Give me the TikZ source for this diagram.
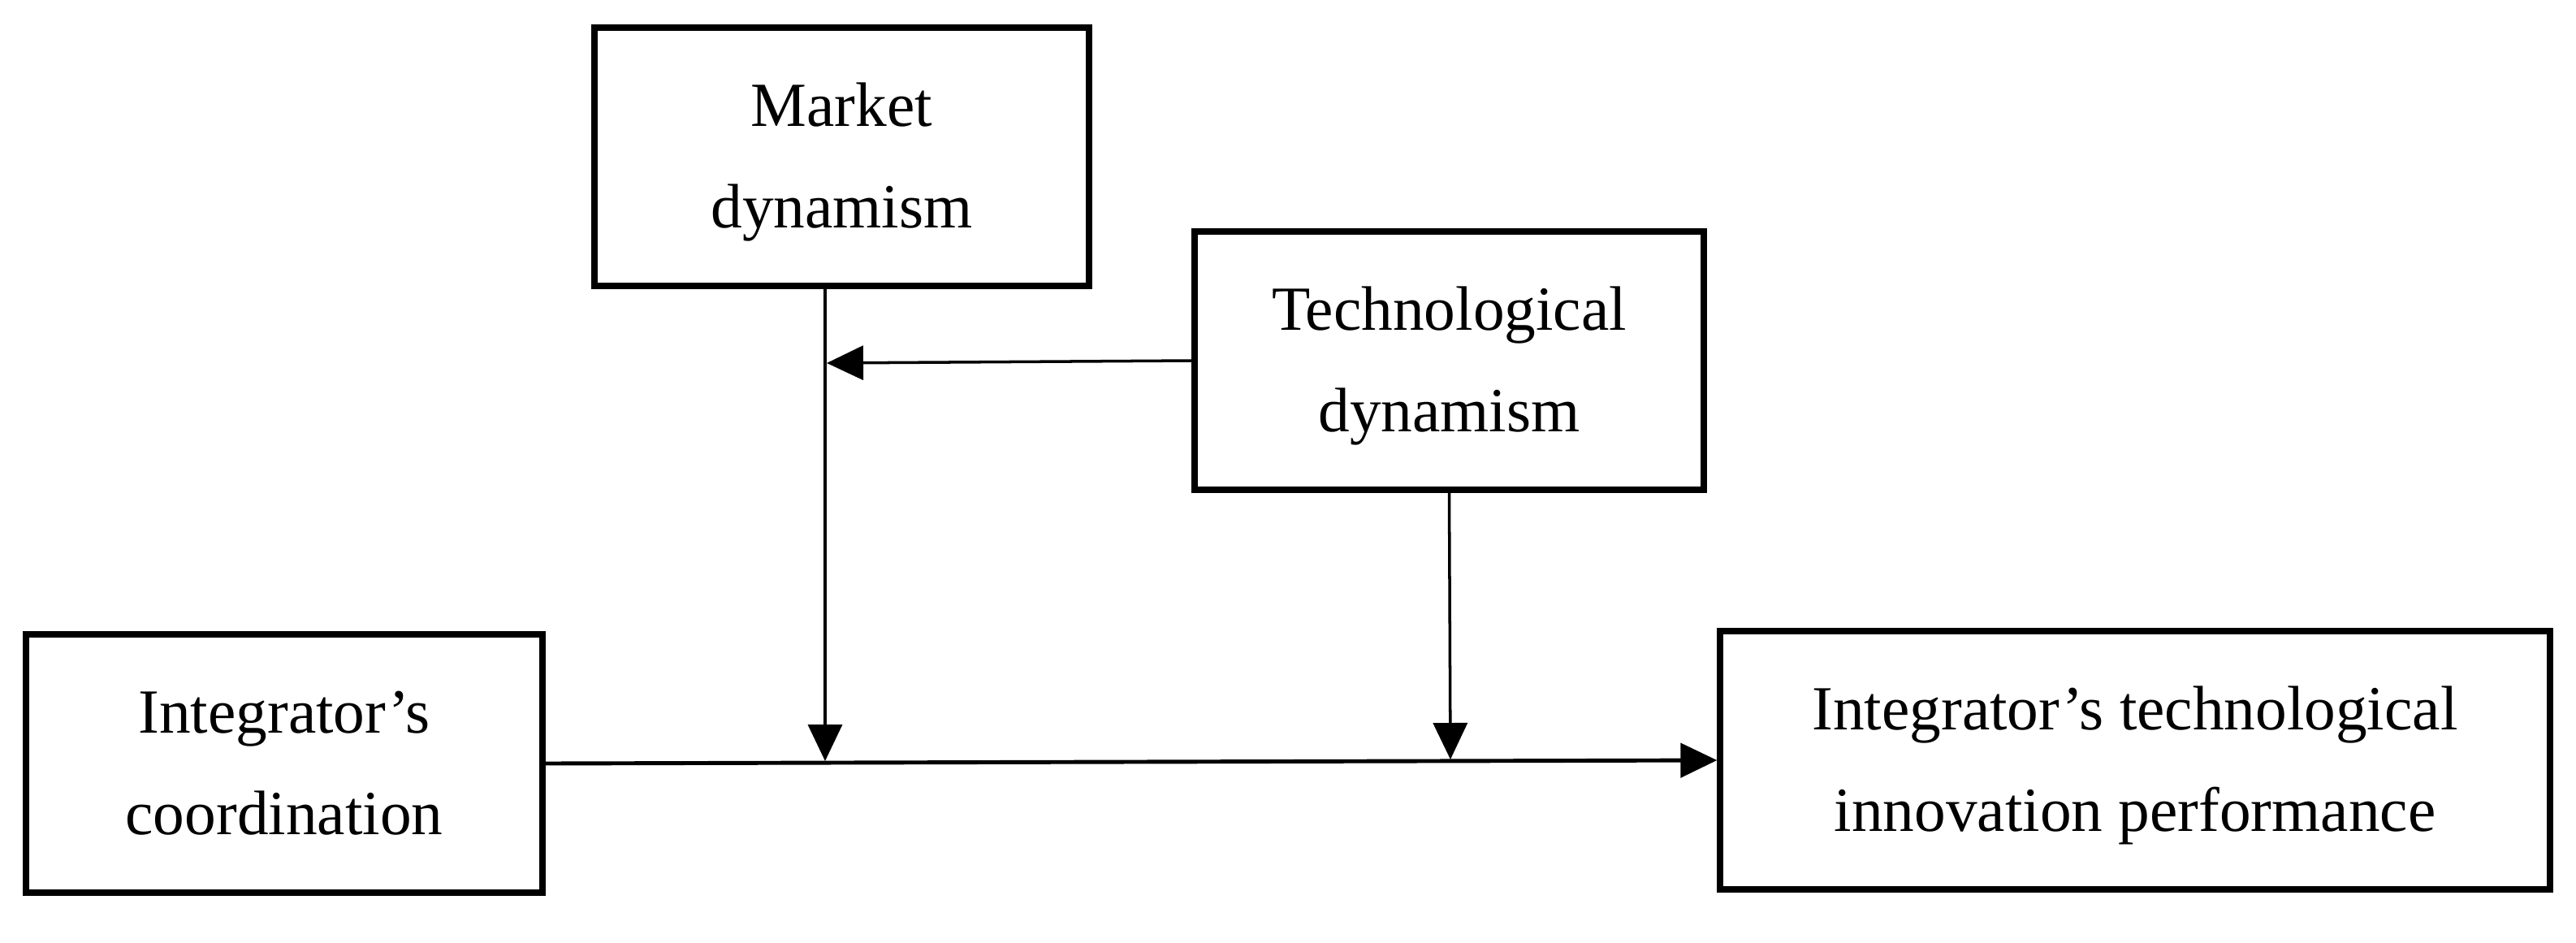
\documentclass[tikz,border=0pt]{standalone}
\usepackage{fontspec}
\setmainfont{Liberation Serif}
\usetikzlibrary{arrows.meta}
\newcommand{\twoline}[2]{\raisebox{-1.5mm}{\begin{tabular}{@{}c@{}}#1\\#2\end{tabular}}}
\tikzset{
  box/.style={draw, line width=2.1pt, inner sep=0pt,
    font=\fontsize{22}{35.6}\selectfont},
  conn/.style={line width=1pt, -{Triangle[length=0.45cm,width=0.42cm]}},
}
\begin{document}
\begin{tikzpicture}
\useasboundingbox (0,0) rectangle (31.72,-11.60);
\node[box, minimum width=6.09cm, minimum height=3.18cm] (market) at (10.365,-1.93) {\twoline{Market}{dynamism}};
\node[box, minimum width=6.27cm, minimum height=3.18cm] (tech) at (17.845,-4.44) {\twoline{Technological}{dynamism}};
\node[box, minimum width=6.36cm, minimum height=3.18cm] (coord) at (3.50,-9.40) {\twoline{Integrator’s}{coordination}};
\node[box, minimum width=10.22cm, minimum height=3.18cm] (perf) at (26.29,-9.36) {\twoline{Integrator’s technological}{innovation performance}};
\coordinate (m1) at (10.16,-9.37);
\coordinate (mline) at (10.18,-4.47);
\coordinate (t1) at (17.86,-9.35);
\draw[conn] (market.south -| m1) -- (m1);
\draw[conn] (tech.west) -- (mline);
\draw[conn] (tech.south) -- (t1);
\draw[conn, line width=1.4pt] (coord.east) -- (perf.west);
\end{tikzpicture}
\end{document}
